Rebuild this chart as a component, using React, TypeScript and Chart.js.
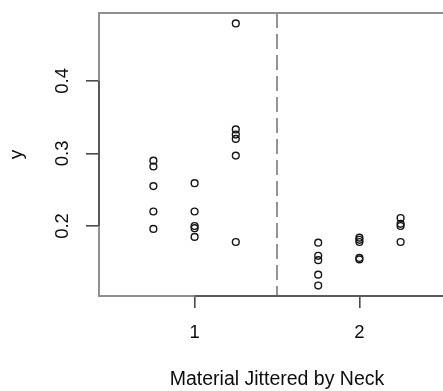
import React, { useEffect, useRef } from "react";
import { Chart, registerables } from "chart.js";

Chart.register(...registerables);

// ---- data ----
const xTickValues = [1, 2];
const xTickLabels = ["1", "2"];
const yTickValues = [0.2, 0.3, 0.4];
const yTickLabels = ["0.2", "0.3", "0.4"];
const xLimits = [0.42, 2.58];
const yLimits = [0.1036, 0.4934];
const separatorX = 1.5;
const xTitle = "Material Jittered by Neck";
const yTitle = "y";

// jittered x position of every material / neck group
const groupX = [0.75, 1.0, 1.25, 1.75, 2.0, 2.25];
// y values of every group
const material1Neck1 = [0.29, 0.282, 0.255, 0.22, 0.196];
const material1Neck2 = [0.259, 0.22, 0.2, 0.197, 0.185];
const material1Neck3 = [0.479, 0.333, 0.326, 0.32, 0.297, 0.178];
const material2Neck1 = [0.177, 0.159, 0.153, 0.133, 0.118];
const material2Neck2 = [0.184, 0.181, 0.178, 0.156, 0.154];
const material2Neck3 = [0.211, 0.203, 0.2, 0.178];
const groupValues = [
  material1Neck1,
  material1Neck2,
  material1Neck3,
  material2Neck1,
  material2Neck2,
  material2Neck3,
];

const FONT = "'Liberation Sans', Arial, Helvetica, sans-serif";
const TEXT = "#0d0d0d";

const rFramePlugin = {
  id: "rFrame",
  afterDraw(chart: any) {
    const { ctx, chartArea, scales } = chart;
    const xs = scales.x;
    const ys = scales.y;
    ctx.save();
    // box
    ctx.strokeStyle = "#8f8f8f";
    ctx.lineWidth = 2;
    ctx.strokeRect(chartArea.left, chartArea.top, chartArea.right - chartArea.left, chartArea.bottom - chartArea.top);
    // axis lines (R style: between ticks)
    ctx.strokeStyle = "#4a4a4a";
    ctx.lineWidth = 1.6;
    ctx.beginPath();
    ctx.moveTo(chartArea.left, ys.getPixelForValue(yTickValues[0]));
    ctx.lineTo(chartArea.left, ys.getPixelForValue(yTickValues[yTickValues.length - 1]));
    ctx.moveTo(xs.getPixelForValue(xTickValues[0]), chartArea.bottom);
    ctx.lineTo(chartArea.right, chartArea.bottom);
    ctx.stroke();
    ctx.restore();
  },
};

export default function App() {
  const ref = useRef<HTMLCanvasElement | null>(null);

  useEffect(() => {
    if (!ref.current) return;
    const points: { x: number; y: number }[] = [];
    groupValues.forEach((vals, i) => vals.forEach((v) => points.push({ x: groupX[i], y: v })));

    const chart = new Chart(ref.current, {
      type: "scatter",
      data: {
        datasets: [
          {
            data: points,
            pointStyle: "circle",
            pointRadius: 3.4,
            pointBorderWidth: 1.4,
            borderColor: "#151515",
            backgroundColor: "rgba(0,0,0,0)",
            order: 0,
          } as any,
          {
            data: [
              { x: separatorX, y: yLimits[1] },
              { x: separatorX, y: yLimits[0] },
            ],
            showLine: true,
            borderColor: "#939393",
            borderWidth: 2,
            borderDash: [15, 6],
            pointRadius: 0,
            order: 1,
          } as any,
        ],
      },
      options: {
        animation: false,
        responsive: false,
        devicePixelRatio: 1,
        layout: { padding: { top: 13, right: 15, left: 0, bottom: 0 } },
        plugins: { legend: { display: false }, tooltip: { enabled: false } },
        scales: {
          x: {
            type: "linear",
            min: xLimits[0],
            max: xLimits[1],
            position: "bottom",
            afterBuildTicks: (s: any) => {
              s.ticks = xTickValues.map((v) => ({ value: v }));
            },
            afterFit: (s: any) => {
              s.height = 95;
              s.paddingLeft = 0;
              s.paddingRight = 0;
            },
            border: { display: false },
            grid: {
              drawOnChartArea: false,
              drawTicks: true,
              tickLength: 12,
              color: "#4a4a4a",
              lineWidth: 1.6,
            },
            ticks: {
              maxRotation: 0,
              minRotation: 0,
              padding: 14,
              color: TEXT,
              font: { family: FONT, size: 18.5 },
              callback: (_v: any, i: number) => xTickLabels[i],
            },
            title: {
              display: true,
              text: xTitle,
              color: TEXT,
              font: { family: FONT, size: 19.5 },
              padding: { top: 0, bottom: 0 },
            },
          },
          y: {
            type: "linear",
            min: yLimits[0],
            max: yLimits[1],
            position: "left",
            afterBuildTicks: (s: any) => {
              s.ticks = yTickValues.map((v) => ({ value: v }));
            },
            afterFit: (s: any) => {
              s.width = 99;
              s.paddingTop = 0;
              s.paddingBottom = 0;
            },
            border: { display: false },
            grid: {
              drawOnChartArea: false,
              drawTicks: true,
              tickLength: 13,
              color: "#4a4a4a",
              lineWidth: 1.6,
            },
            ticks: {
              minRotation: 90,
              maxRotation: 90,
              crossAlign: "center",
              padding: 10,
              color: TEXT,
              font: { family: FONT, size: 18.5 },
              callback: (_v: any, i: number) => yTickLabels[i],
            },
            title: {
              display: true,
              text: yTitle,
              color: TEXT,
              font: { family: FONT, size: 19 },
              padding: { top: 5, bottom: 0 },
            },
          },
        },
      },
      plugins: [rFramePlugin],
    });
    return () => chart.destroy();
  }, []);

  return (
    <div
      style={{
        position: "absolute",
        left: 0,
        top: 0,
        width: 443,
        height: 391,
        overflow: "hidden",
        background: "#ffffff",
      }}
    >
      <canvas ref={ref} width={470} height={391} style={{ display: "block", width: 470, height: 391 }} />
    </div>
  );
}
